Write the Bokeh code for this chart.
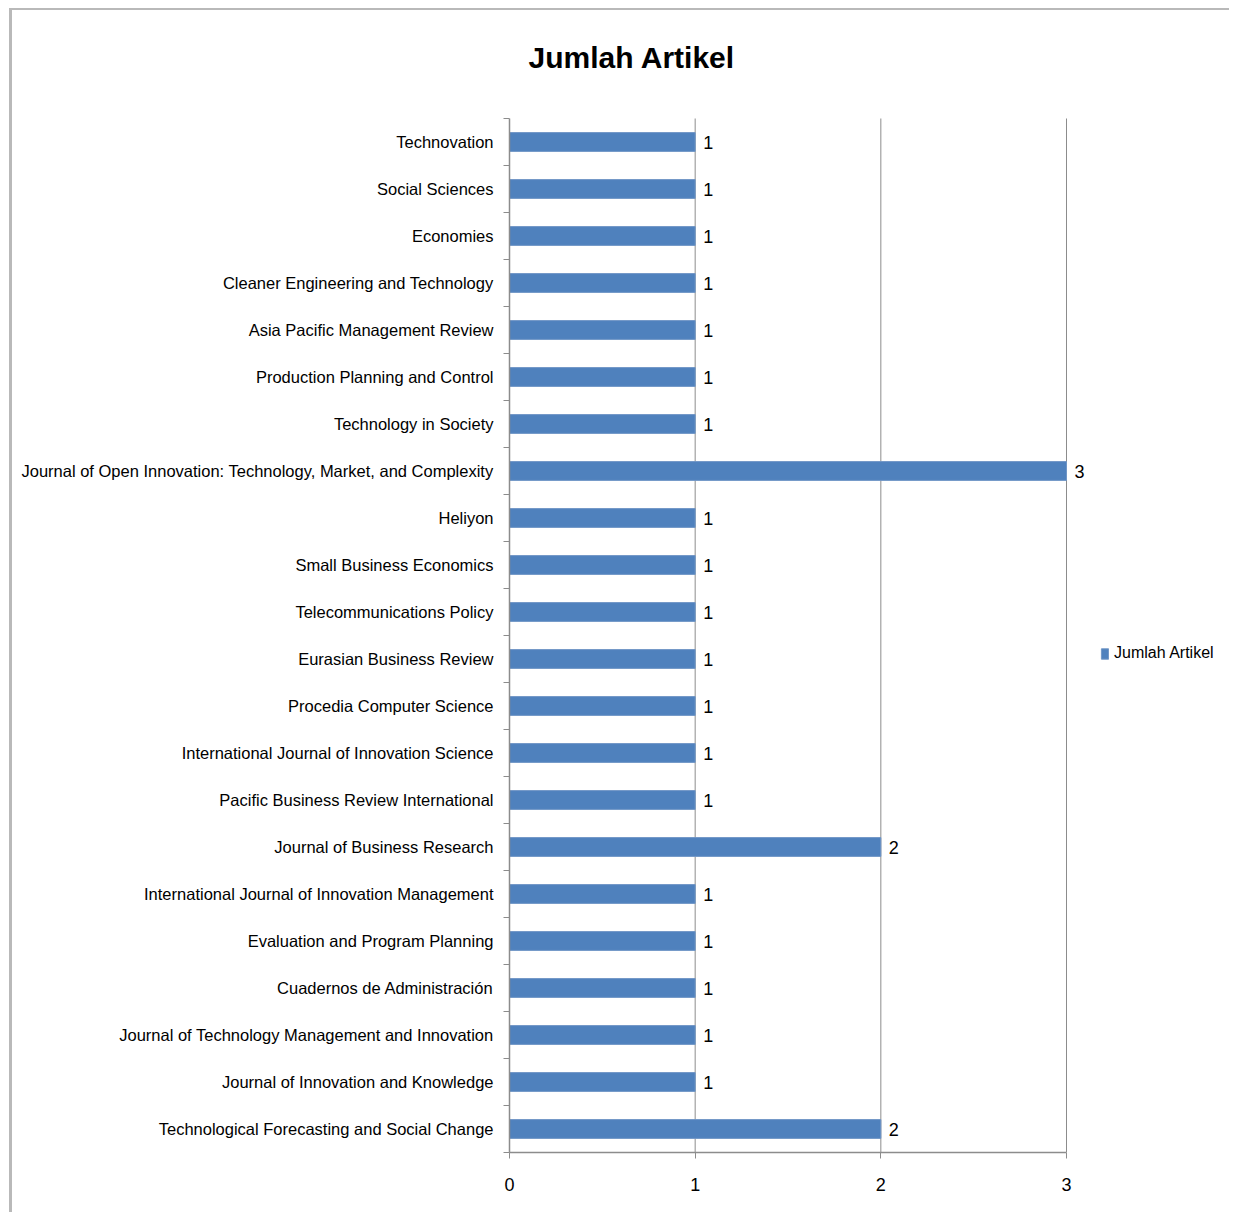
from bokeh.plotting import figure
from bokeh.models import (Range1d, FixedTicker, ColumnDataSource, Legend, LegendItem,
                          LabelSet, Label)
from bokeh.core.properties import value
from bokeh.embed import file_html
from bokeh.resources import INLINE

# Data (top to bottom as shown in the reference)
categories = [
    "Technovation",
    "Social Sciences",
    "Economies",
    "Cleaner Engineering and Technology",
    "Asia Pacific Management Review",
    "Production Planning and Control",
    "Technology in Society",
    "Journal of Open Innovation: Technology, Market, and Complexity",
    "Heliyon",
    "Small Business Economics",
    "Telecommunications Policy",
    "Eurasian Business Review",
    "Procedia Computer Science",
    "International Journal of Innovation Science",
    "Pacific Business Review International",
    "Journal of Business Research",
    "International Journal of Innovation Management",
    "Evaluation and Program Planning",
    "Cuadernos de Administración",
    "Journal of Technology Management and Innovation",
    "Journal of Innovation and Knowledge",
    "Technological Forecasting and Social Change",
]
counts = [1, 1, 1, 1, 1, 1, 1, 3, 1, 1, 1, 1, 1, 1, 1, 2, 1, 1, 1, 1, 1, 2]
x_ticks = [0, 1, 2, 3]
series_name = "Jumlah Artikel"
title_text = "Jumlah Artikel"

FONT = "Liberation Sans"

n = len(categories)
ypos = [n - 1 - i + 0.5 for i in range(n)]
labels = [str(c) for c in counts]
src = ColumnDataSource(dict(y=ypos, right=counts, cat=categories, lab=labels))

# layout (pixels)
W, H = 1220, 1204
BL, BR, BT, BB = 497, 4, 0, 62
axis_px = 557                  # pixel length of the 0..3 value axis
plot_h = 1034                  # pixel height of the category area
frame_w = W - BL - BR
frame_h = H - BT - BB
x_end = x_ticks[-1] * frame_w / axis_px   # frame extends past 3 for legend/labels
y_end = n * frame_h / plot_h               # frame extends above for the title

p = figure(width=W, height=H, output_backend="svg", toolbar_location=None,
           x_range=Range1d(0, x_end), y_range=Range1d(0, y_end),
           min_border_left=BL, min_border_right=BR, min_border_top=BT,
           min_border_bottom=BB)
p.outline_line_color = None
p.background_fill_color = "white"
p.border_fill_color = "white"
p.xgrid.grid_line_color = None
p.ygrid.grid_line_color = None

# vertical gridlines limited to the category area
gx = x_ticks[1:]
p.segment(x0=gx, y0=[0] * len(gx), x1=gx, y1=[n] * len(gx),
          line_color="#8c8c8c", line_width=1)

r = p.hbar(y="y", right="right", left=0, height=0.4, source=src,
           fill_color="#4F81BD", line_color="#7096c6", line_width=1)

p.add_layout(LabelSet(x="right", y="y", text="lab", source=src, x_offset=8,
                      text_baseline="middle", text_align="left",
                      text_font=value(FONT), text_font_size=value("18px"),
                      text_color="#000000"))

# y axis: labels at category centres, ticks at boundaries
yt = FixedTicker(ticks=ypos, minor_ticks=[i for i in range(n + 1)])
p.yaxis.ticker = yt
p.yaxis.bounds = (0, n)
p.yaxis.major_label_overrides = {y: c for y, c in zip(ypos, categories)}
p.yaxis.major_tick_line_color = None
p.yaxis.minor_tick_in = 0
p.yaxis.minor_tick_out = 6
p.yaxis.minor_tick_line_color = "#8c8c8c"
p.yaxis.axis_line_color = "#8c8c8c"
p.yaxis.axis_line_width = 1.5
p.yaxis.major_label_text_font = FONT
p.yaxis.major_label_text_font_size = "16.5px"
p.yaxis.major_label_text_color = "#000000"
p.yaxis.major_label_standoff = 10

p.xaxis.ticker = FixedTicker(ticks=x_ticks)
p.xaxis.bounds = (x_ticks[0], x_ticks[-1])
p.xaxis.minor_tick_line_color = None
p.xaxis.major_tick_in = 0
p.xaxis.major_tick_out = 6
p.xaxis.major_tick_line_color = "#8c8c8c"
p.xaxis.axis_line_color = "#8c8c8c"
p.xaxis.axis_line_width = 1.5
p.xaxis.major_label_text_font = FONT
p.xaxis.major_label_text_font_size = "18px"
p.xaxis.major_label_text_color = "#000000"
p.xaxis.major_label_standoff = 19

# chart title (screen units, relative to the frame)
p.add_layout(Label(x=19, y=frame_h - 47, x_units="screen", y_units="screen",
                   text=title_text, text_font=FONT, text_font_size="30px",
                   text_font_style="bold", text_color="#000000",
                   text_align="left", text_baseline="middle"))

legend = Legend(items=[LegendItem(label=series_name, renderers=[r])],
                location=(591, 490), padding=0, margin=0, spacing=0,
                glyph_width=9, glyph_height=13, label_standoff=5,
                label_text_font=FONT, label_text_font_size="16px",
                label_text_color="#000000",
                border_line_color=None, background_fill_alpha=0)
p.add_layout(legend, "center")

p.styles = {"margin-left": "9px", "margin-top": "8px",
            "border-left": "3px solid #b9b9b9", "border-top": "2px solid #b9b9b9"}

open("out.html", "w").write(file_html(p, INLINE))
